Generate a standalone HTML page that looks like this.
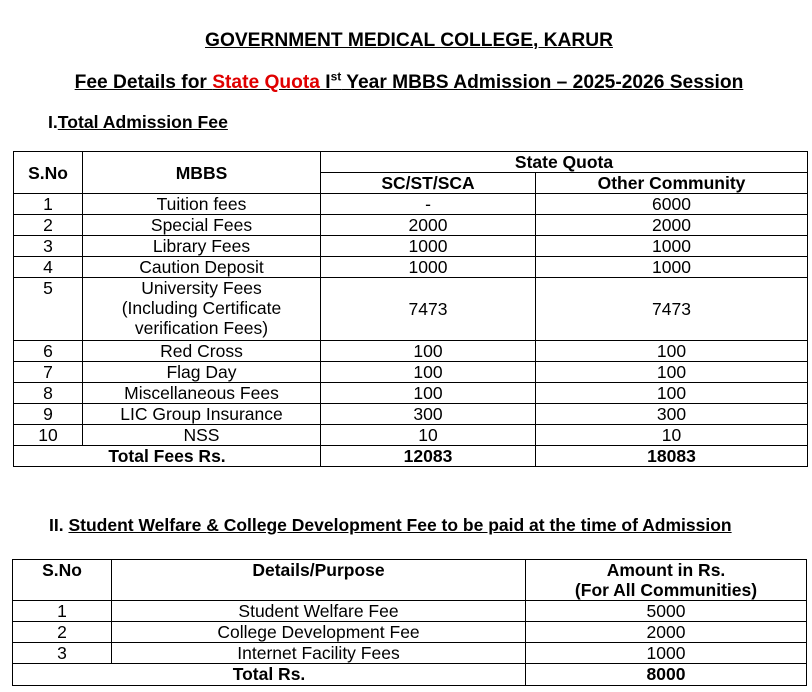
<!DOCTYPE html>
<html><head><meta charset="utf-8"><style>
body{margin:0;width:812px;height:692px;background:#fff;font-family:"Liberation Sans",Arial,sans-serif;color:#000;position:relative;overflow:hidden}
.t{position:absolute;white-space:nowrap;font-weight:bold}
table{position:absolute;border-collapse:collapse;table-layout:fixed;font-size:17.5px}
td{border:1.5px solid #000;padding:0;text-align:center;vertical-align:top;line-height:20px;overflow:hidden;white-space:nowrap}
.b{font-weight:bold}
</style></head><body>
<div class="t" style="left:0;width:818px;text-align:center;top:30px;font-size:19.2px;"><u>GOVERNMENT MEDICAL COLLEGE, KARUR</u></div>
<div class="t" style="left:0;width:818px;text-align:center;top:70px;font-size:19.2px;"><u>Fee Details for <span style="color:#e00000">State Quota</span> I<sup style="font-size:12px">st</sup> Year MBBS Admission – 2025-2026 Session</u></div>
<div class="t" style="left:48px;top:112px;font-size:17.6px;">I.<u>Total Admission Fee</u></div>

<table style="left:13px;top:151px;width:794px">
<colgroup><col style="width:69px"><col style="width:238px"><col style="width:215px"><col style="width:272px"></colgroup>
<tr style="height:21px"><td rowspan="2" class="b" style="vertical-align:middle">S.No</td><td rowspan="2" class="b" style="vertical-align:middle">MBBS</td><td colspan="2" class="b">State Quota</td></tr>
<tr style="height:21px"><td class="b">SC/ST/SCA</td><td class="b">Other Community</td></tr>
<tr style="height:21px"><td>1</td><td>Tuition fees</td><td>-</td><td>6000</td></tr>
<tr style="height:21px"><td>2</td><td>Special Fees</td><td>2000</td><td>2000</td></tr>
<tr style="height:21px"><td>3</td><td>Library Fees</td><td>1000</td><td>1000</td></tr>
<tr style="height:21px"><td>4</td><td>Caution Deposit</td><td>1000</td><td>1000</td></tr>
<tr style="height:63px"><td>5</td><td>University Fees<br>(Including Certificate<br>verification Fees)</td><td style="vertical-align:middle">7473</td><td style="vertical-align:middle">7473</td></tr>
<tr style="height:21px"><td>6</td><td>Red Cross</td><td>100</td><td>100</td></tr>
<tr style="height:21px"><td>7</td><td>Flag Day</td><td>100</td><td>100</td></tr>
<tr style="height:21px"><td>8</td><td>Miscellaneous Fees</td><td>100</td><td>100</td></tr>
<tr style="height:21px"><td>9</td><td>LIC Group Insurance</td><td>300</td><td>300</td></tr>
<tr style="height:21px"><td>10</td><td>NSS</td><td>10</td><td>10</td></tr>
<tr style="height:21px"><td colspan="2" class="b">Total Fees Rs.</td><td class="b">12083</td><td class="b">18083</td></tr>
</table>

<div class="t" style="left:49px;top:515px;font-size:17.5px;">II. <u>Student Welfare &amp; College Development Fee to be paid at the time of Admission</u></div>

<table style="left:12px;top:559px;width:794px">
<colgroup><col style="width:99px"><col style="width:414px"><col style="width:281px"></colgroup>
<tr style="height:41px"><td class="b">S.No</td><td class="b">Details/Purpose</td><td class="b">Amount in Rs.<br>(For All Communities)</td></tr>
<tr style="height:21px"><td>1</td><td>Student Welfare Fee</td><td>5000</td></tr>
<tr style="height:21px"><td>2</td><td>College Development Fee</td><td>2000</td></tr>
<tr style="height:21px"><td>3</td><td>Internet Facility Fees</td><td>1000</td></tr>
<tr style="height:22px"><td colspan="2" class="b">Total Rs.</td><td class="b">8000</td></tr>
</table>
</body></html>
